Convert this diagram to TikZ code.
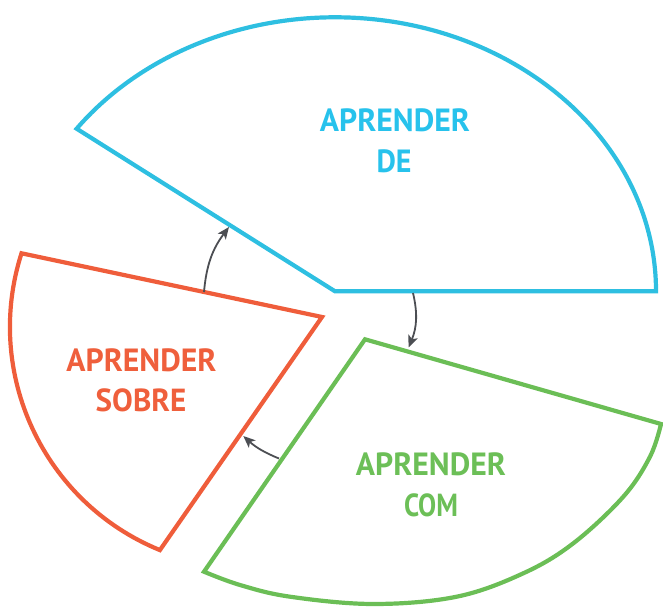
\documentclass[tikz,border=0pt]{standalone}
\usepackage{fontspec}
\usepackage{graphicx}
\setmainfont{PT Sans}
\usetikzlibrary{arrows.meta}
\definecolor{cblue}{HTML}{2EBFE1}
\definecolor{cbluet}{HTML}{27C2EC}
\definecolor{cred}{HTML}{EF5D3B}
\definecolor{credt}{HTML}{EF5F3C}
\definecolor{cgreen}{HTML}{6BBE56}
\definecolor{cgreent}{HTML}{6CBF57}
\definecolor{carrow}{HTML}{4C4E53}
\newcommand{\lbl}[2]{\resizebox{#1pt}{22.8pt}{\bfseries #2}}
\begin{document}
\begin{tikzpicture}[x=1pt,y=1pt,
  sector/.style={line width=4.2pt, line join=miter},
  flow/.style={draw=carrow, line width=1.8pt, -{Stealth[length=12pt,width=10pt,inset=3pt]}},
  word/.style={inner sep=0pt, outer sep=0pt, anchor=center}]
\useasboundingbox (0,0) rectangle (663,607);

% blue sector: APRENDER DE
\draw[sector, draw=cblue] (335,315.7) -- (656,315.7)
  arc[start angle=0, end angle=143.6, x radius=321, y radius=274] -- cycle;

% red sector: APRENDER SOBRE
\draw[sector, draw=cred] (322,290) -- (21.5,353.7)
  arc[start angle=162.2, end angle=247.8, radius=241] -- cycle;

% green sector: APRENDER COM
\draw[sector, draw=cgreen] (365,267.7) -- (661,183)
  -- plot[smooth, tension=0.6] coordinates {(661,183) (650,150.3) (623.3,110.3) (573.3,63.7) (523.3,33.7) (456.7,10.3) (373.3,3) (290,10.3) (240,22) (204,35.3)}
  -- cycle;

% labels
\node[word, text=cbluet] (deA) at (395,487) {\lbl{150}{APRENDER}};
\node[word, text=cbluet] (deB) at (394,446) {\lbl{35}{DE}};
\node[word, text=credt] (soA) at (141.5,246.7) {\lbl{150}{APRENDER}};
\node[word, text=credt] (soB) at (141,206.3) {\lbl{90.5}{SOBRE}};
\node[word, text=cgreent] (coA) at (431,142.3) {\lbl{150}{APRENDER}};
\node[word, text=cgreent] (coB) at (431,102) {\lbl{54}{COM}};

% arrow end points on the sector edges
\coordinate (redTop) at (204,315);
\coordinate (blueEdge) at (229,380);
\coordinate (blueBottom) at (413,314);
\coordinate (greenTop) at (408.5,259.5);
\coordinate (greenLeft) at (279,148.5);
\coordinate (redRight) at (243.3,171);

\draw[flow] (redTop) to[bend left=16] (blueEdge);
\draw[flow] (blueBottom) to[bend left=18] (greenTop);
\draw[flow] (greenLeft) to[bend left=10] (redRight);
\end{tikzpicture}
\end{document}
